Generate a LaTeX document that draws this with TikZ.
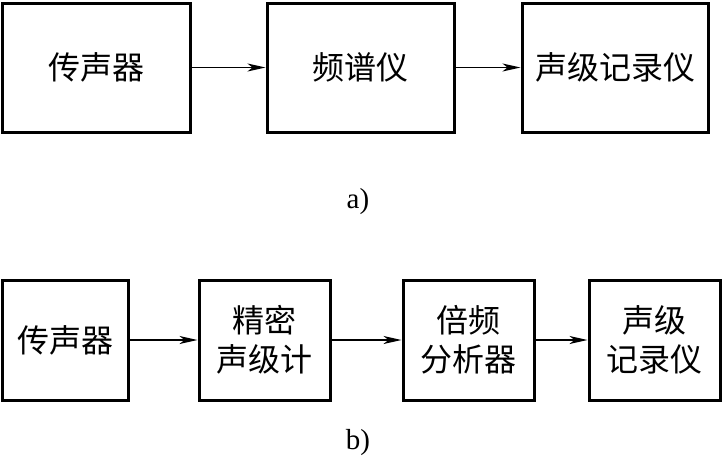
\documentclass[tikz,border=0pt]{standalone}
\usepackage{fontspec}
\setmainfont{Liberation Serif}
\newfontfamily\cjk{Noto Sans CJK SC}
\usetikzlibrary{arrows.meta}
\begin{document}
\begin{tikzpicture}[x=1pt,y=-1pt,
  blk/.style={draw, line width=3pt, rectangle, inner sep=0pt, align=center,
    font=\cjk\fontsize{32}{39}\selectfont},
  conn/.style={line width=1.4pt, -{Stealth[length=18pt,width=8pt,inset=5pt]}},
  figlabel/.style={font=\fontsize{29}{32}\selectfont}]
\useasboundingbox (0,0) rectangle (722,461);
% top row
\node[blk, minimum width=188pt, minimum height=129pt] (a1) at (96,67.5) {传声器};
\node[blk, minimum width=187pt, minimum height=129pt] (a2) at (360.5,67.5) {频谱仪};
\node[blk, minimum width=186pt, minimum height=129pt] (a3) at (615,67.5) {声级记录仪};
\draw[conn] (a1) -- (a2);
\draw[conn] (a2) -- (a3);
\node[figlabel] (la) at (358,202) {a)};
% bottom row
\node[blk, minimum width=126pt, minimum height=120pt] (b1) at (65,340) {传声器};
\node[blk, minimum width=131pt, minimum height=120pt] (b2) at (264.5,340) {精密\\声级计};
\node[blk, minimum width=131pt, minimum height=120pt] (b3) at (468.5,340) {倍频\\分析器};
\node[blk, minimum width=131pt, minimum height=120pt] (b4) at (654.5,340) {声级\\记录仪};
\draw[conn] (b1) -- (b2);
\draw[conn] (b2) -- (b3);
\draw[conn] (b3) -- (b4);
\node[figlabel] (lb) at (358,443) {b)};
\end{tikzpicture}
\end{document}
